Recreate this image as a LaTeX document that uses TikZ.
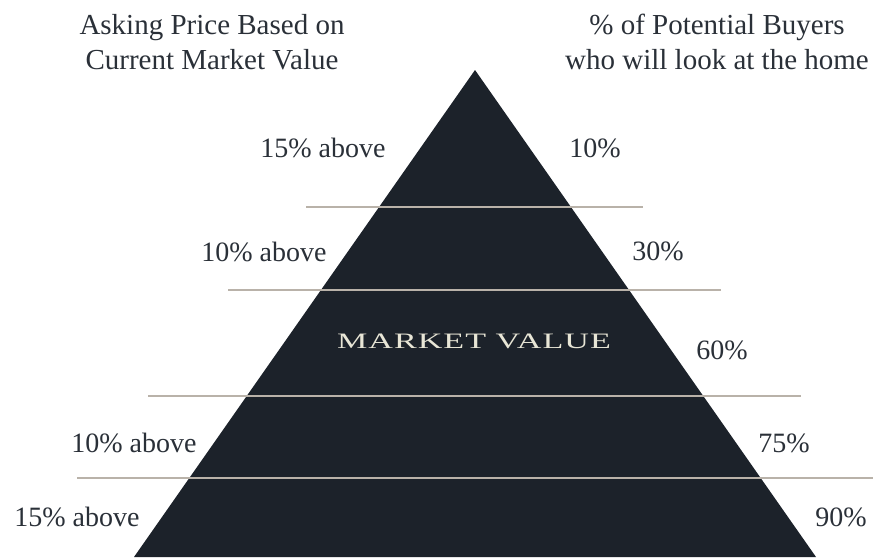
\documentclass[tikz,border=0pt]{standalone}
\usepackage{fontspec}
\setmainfont{Liberation Serif}
\usepackage{graphicx}
\usepackage{xcolor}
\usepackage{tikz}
\usetikzlibrary{positioning}

\definecolor{pyramidfill}{HTML}{1C222A}
\definecolor{bandline}{HTML}{B9B2A9}
\definecolor{labeltext}{HTML}{2A3038}
\definecolor{capstext}{HTML}{E8E6D6}

\begin{document}
\begin{tikzpicture}[
        x=1pt, y=-1pt,
        heading/.style={font=\fontsize{29}{35}\selectfont, text=labeltext, align=center, anchor=base, inner sep=0pt},
        pricelabel/.style={font=\fontsize{28}{32}\selectfont, text=labeltext, inner sep=0pt},
        buyerlabel/.style={font=\fontsize{28}{32}\selectfont, text=labeltext, inner sep=0pt},
        band/.style={draw=bandline, line width=2.4pt}
    ]
        \useasboundingbox (0,0) rectangle (880,557);

        % pyramid
        \coordinate (apex) at (475,70);
        \coordinate (baseL) at (134,557);
        \coordinate (baseR) at (816,557);
        \fill[pyramidfill] (apex) -- (baseR) -- (baseL) -- cycle;

        % price bands
        \foreach \y/\xa/\xb in {207/306/643, 290/228/721, 396/148/801, 478/77/873}
            \draw[band] (\xa,\y) -- (\xb,\y);

        % base anchor sits on the second line
        \node[heading] (hprice) at (212,69) {Asking Price Based on\\Current Market Value};
        \node[heading] (hbuyers) at (717,69) {\% of Potential Buyers\\who will look at the home};

        \node[pricelabel] (p1) at (323,148) {15\% above};
        \node[pricelabel] (p2) at (264,252) {10\% above};
        \node[pricelabel] (p4) at (134,443) {10\% above};
        \node[pricelabel] (p5) at (77,517) {15\% above};

        \node[buyerlabel] (b1) at (595,148) {10\%};
        \node[buyerlabel] (b2) at (658,251) {30\%};
        \node[buyerlabel] (b3) at (722,350) {60\%};
        \node[buyerlabel] (b4) at (784,443) {75\%};
        \node[buyerlabel] (b5) at (841,517) {90\%};

        \node[text=capstext, font=\fontsize{22}{26}\selectfont, inner sep=0pt] (mv) at (474,341)
            {\scalebox{1.55}[1]{\addfontfeature{LetterSpace=3}MARKET VALUE}};
    \end{tikzpicture}
\end{document}
